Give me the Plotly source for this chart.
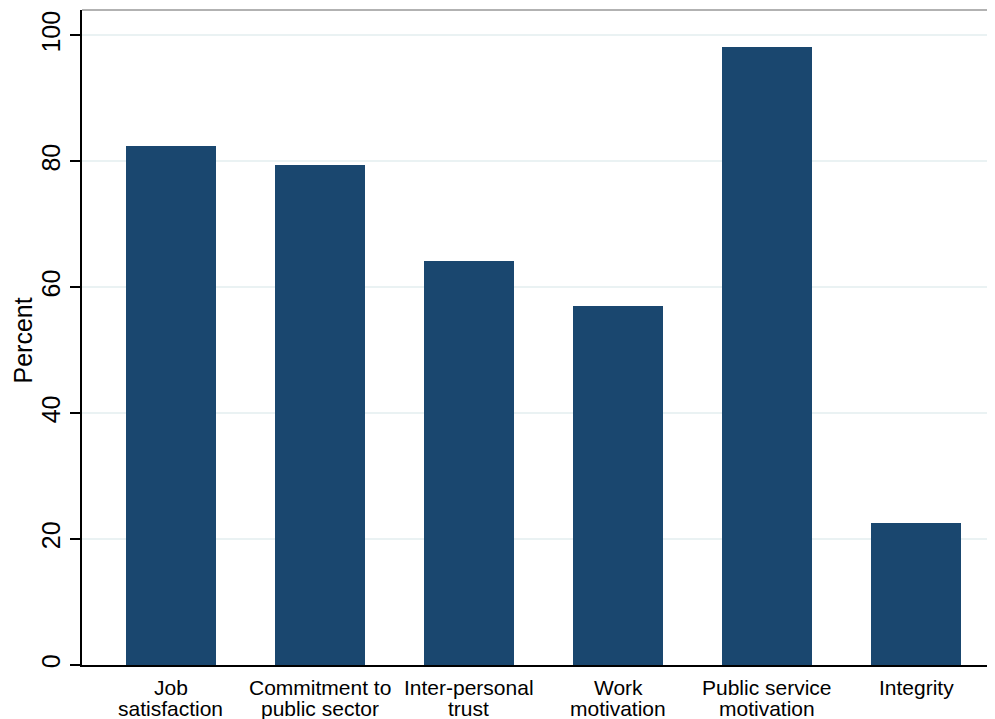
import plotly.graph_objects as go

categories = ["Job satisfaction", "Commitment to public sector", "Inter-personal trust",
              "Work motivation", "Public service motivation", "Integrity"]
label_line1 = ["Job", "Commitment to", "Inter-personal", "Work", "Public service", "Integrity"]
label_line2 = ["satisfaction", "public sector", "trust", "motivation", "motivation", ""]
values = [82.5, 79.5, 64.1, 57.1, 98.1, 22.5]
y_ticks = [0, 20, 40, 60, 80, 100]

BAR = "#1a476f"
GRID = "#eaf2f3"
FONT = "Liberation Sans, Arial, sans-serif"

xs = list(range(len(categories)))

fig = go.Figure()
fig.add_trace(go.Bar(x=xs, y=values, marker=dict(color=BAR, line=dict(width=0)),
                     width=0.604, hoverinfo="skip"))

annotations = []
for i, (l1, l2) in enumerate(zip(label_line1, label_line2)):
    annotations.append(dict(x=i, y=0, xref="x", yref="paper", text=l1, showarrow=False,
                            yanchor="top", yshift=-9, font=dict(size=21, color="black", family=FONT)))
    if l2:
        annotations.append(dict(x=i, y=0, xref="x", yref="paper", text=l2, showarrow=False,
                                yanchor="top", yshift=-30, font=dict(size=21, color="black", family=FONT)))

annotations.append(dict(x=0, y=0.5, xref="paper", yref="paper", text="Percent", showarrow=False,
                        textangle=-90, xanchor="center", yanchor="middle", xshift=-60, yshift=-3,
                        borderpad=0,
                        font=dict(size=25, color="black", family=FONT)))

fig.update_layout(
    width=987, height=711,
    margin=dict(l=74, r=0, t=2, b=54),
    paper_bgcolor="white", plot_bgcolor="white",
    showlegend=False,
    font=dict(family=FONT, color="black"),
    annotations=annotations,
    shapes=[dict(type="line", xref="paper", yref="paper", x0=0, x1=1, y0=1, y1=1,
                 line=dict(color="#999999", width=1.5))],
    xaxis=dict(range=[-0.597, 5.53], showticklabels=False, ticks="", showgrid=False,
               zeroline=False, showline=True, linecolor="black", linewidth=1.5),
    yaxis=dict(range=[0, 104.05], tickvals=y_ticks, ticktext=[str(v) for v in y_ticks],
               tickangle=-90, ticks="outside", ticklen=10, tickwidth=1.5, tickcolor="black",
               tickfont=dict(size=25, color="black", family=FONT),
               showgrid=True, gridcolor=GRID, gridwidth=2,
               zeroline=False, showline=True, linecolor="black", linewidth=1.5),
    bargap=0,
)

fig.write_html("out.html")
